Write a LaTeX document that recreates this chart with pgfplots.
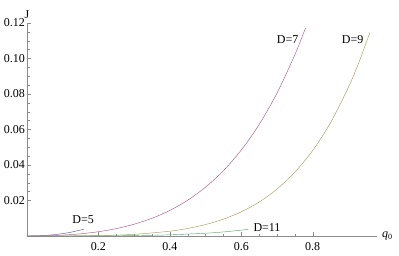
\documentclass[border=0pt]{standalone}
\usepackage{pgfplots}
\pgfplotsset{compat=1.18}
\usepackage{fontspec}
\setmainfont{Liberation Serif}
\definecolor{c5}{rgb}{0.2472,0.24,0.6}
\definecolor{c7}{rgb}{0.6,0.24,0.4429}
\definecolor{c9}{rgb}{0.6,0.547,0.24}
\definecolor{c11}{rgb}{0.24,0.6,0.3369}
\begin{document}
\begin{tikzpicture}
\begin{axis}[
  scale only axis, width=350pt, height=213pt,
  axis lines=middle, axis line style={black!45, line width=0.4pt, -},
  xmin=0, xmax=0.98, ymin=0, ymax=0.12,
  xtick={0.2,0.4,0.6,0.8}, ytick={0.02,0.04,0.06,0.08,0.1,0.12},
  minor x tick num=3, minor y tick num=3,
  major tick length=4pt, minor tick length=2.5pt,
  tick style={black!45, line width=0.4pt},
  tick align=inside,
  xticklabel style={/pgf/number format/fixed, /pgf/number format/precision=1, font=\fontsize{12}{13}\selectfont, inner sep=1pt, yshift=-5.5pt},
  yticklabel style={/pgf/number format/fixed, /pgf/number format/fixed zerofill, /pgf/number format/precision=2, font=\fontsize{12}{13}\selectfont, inner sep=1pt, xshift=-1pt},
  /pgf/number format/assume math mode=true,
  clip=false,
]
\addplot[c5!85, line width=0.45pt, smooth] coordinates {(0,0) (0.04,0.000191) (0.08,0.000826) (0.12,0.002014) (0.16,0.003878)};
\addplot[c7!85, line width=0.45pt, smooth] coordinates {(0,0) (0.05,0.000112) (0.10,0.000495) (0.15,0.00123) (0.20,0.002417) (0.25,0.004173) (0.30,0.006642) (0.35,0.009991) (0.40,0.014422) (0.45,0.020172) (0.50,0.027523) (0.55,0.036805) (0.60,0.048407) (0.65,0.062786) (0.70,0.080476) (0.75,0.102099) (0.78,0.117258)};
\addplot[c9!85, line width=0.45pt, smooth] coordinates {(0,0) (0.1,0.0000232) (0.2,0.000227) (0.3,0.000935) (0.4,0.002706) (0.45,0.004259) (0.5,0.006456) (0.55,0.009497) (0.6,0.013626) (0.65,0.019146) (0.7,0.026428) (0.75,0.035924) (0.8,0.048183) (0.85,0.063872) (0.9,0.083793) (0.93,0.098171) (0.96,0.114661)};
\addplot[c11!85, line width=0.45pt, smooth] coordinates {(0,0) (0.1,0.0000056) (0.2,0.0000549) (0.3,0.000226) (0.4,0.000655) (0.5,0.001563) (0.55,0.002299) (0.6,0.003299) (0.62,0.003788)};
\node[font=\fontsize{12}{13}\selectfont] at (axis cs:0.157,0.0095) {D=5};
\node[font=\fontsize{12}{13}\selectfont] at (axis cs:0.73,0.1105) {D=7};
\node[font=\fontsize{12}{13}\selectfont] at (axis cs:0.912,0.1105) {D=9};
\node[font=\fontsize{12}{13}\selectfont] at (axis cs:0.672,0.0050) {D=11};
\node[font=\fontsize{12}{13}\selectfont, anchor=south, inner sep=1pt] at (axis cs:0,0.12) [yshift=3.5pt] {J};
\node[font=\fontsize{12}{13}\selectfont, anchor=west, inner sep=1pt] at (axis cs:0.98,0) [xshift=4pt] {\textit{q}\textsubscript{0}};
\coordinate (O) at (axis cs:0,0);
\end{axis}
\pgfresetboundingbox
\path ([shift={(-27pt,-19pt)}]O) rectangle ([shift={(372pt,236pt)}]O);
\end{tikzpicture}
\end{document}
